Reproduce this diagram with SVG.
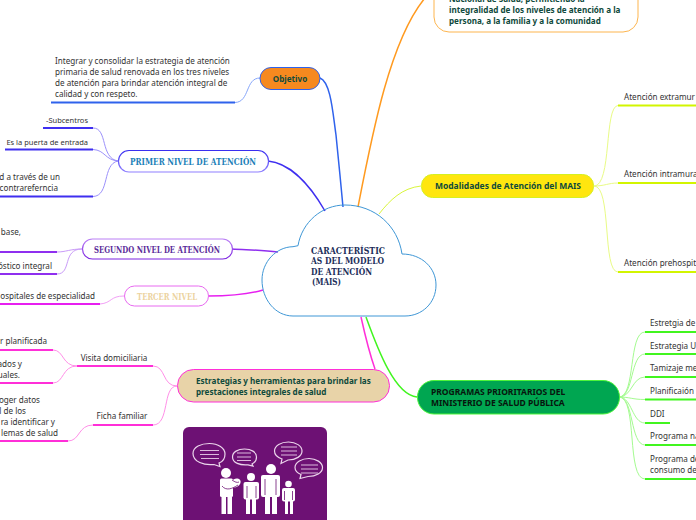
<svg xmlns="http://www.w3.org/2000/svg" width="696" height="520" viewBox="0 0 696 520">
<style>
text{font-family:"Noto Sans","DejaVu Sans",sans-serif;font-size:8.1px;fill:#333}
.s{font-size:7.5px}
.b{font-weight:700;fill:#0f4a3c;font-size:8.1px}
.b2{font-size:8.5px}
.h{font-family:"DejaVu Serif","Liberation Serif",serif;font-weight:700;font-size:9px}
.k{fill:#1c2e5a}
.m{text-anchor:middle}
.e{text-anchor:end}
path{fill:none}
.u{stroke-width:2}
.c{stroke-width:1}
.t{stroke-width:1.5}
.blue{stroke:#2f62ec}.blueL{stroke:#86a6fa}
.ind{stroke:#3f2ff0}.indL{stroke:#9b90fb}
.pur{stroke:#8f2fef}.purL{stroke:#c99bf8}
.mag{stroke:#e71ff0}.magL{stroke:#f2a0f6}
.pink{stroke:#ff2fd8}.pinkL{stroke:#ff8fe8}
.yel{stroke:#d2f500}.yelL{stroke:#e9fb86}
.grn{stroke:#41f51f}.grnL{stroke:#a4fb90}
.w{fill:#fff;stroke:none}
.bub{fill:none;stroke:#ecd6ec;stroke-width:1.200}
.ln{stroke:#dcbadc;stroke-width:1.100}
.sep{stroke:#6d1174;stroke-width:.8}
</style>
<defs>
<linearGradient id="gi" x1="0" y1="0" x2="0" y2="1"><stop offset="0" stop-color="#3a2ff0"/><stop offset="1" stop-color="#8f80ff"/></linearGradient>
<linearGradient id="gp" x1="0" y1="0" x2="0" y2="1"><stop offset="0" stop-color="#bb80f5"/><stop offset="1" stop-color="#7a20e0"/></linearGradient>
</defs>
<rect width="696" height="520" fill="#fff"/>
<g id="connectors">
<path class="t blue" d="M320 78C331 82 333 115 336 135C338 155 341 185 343 207"/>
<path class="t ind" d="M268 161C290 163 310 185 325 211"/>
<path class="t" stroke="#ff9a1f" d="M358 207C372 135 390 40 425 -2"/>
<path class="c" stroke="#d9f53a" d="M421 186C402 188 390 200 379 214"/>
<path class="t pur" d="M232 249C250 250 262 250 278 252"/>
<path class="t mag" d="M208 296C235 296 250 294 263 290"/>
<path class="t pink" d="M375 369C369 352 365 335 361 317"/>
<path class="t grn" d="M417 397C395 395 378 350 366 317"/>
<path class="u blue" d="M51 102.500H235"/><path class="c blueL" d="M235 102.500C250 102 245 78 260 78"/>
<path class="u ind" d="M43 128H93M5 149.500H93M0 196.500H93"/>
<path class="c indL" d="M93 128C108 128 100 158 118 161M93 149.500C105 150 105 160 118 161M93 196.500C110 196 102 164 118 161"/>
<path class="u pur" d="M0 252H57M0 274H57"/>
<path class="c purL" d="M57 252C66 252 70 249 82 249M57 274C72 274 62 249 82 249"/>
<path class="u mag" d="M0 304H100"/><path class="c magL" d="M100 304C112 303 110 296 124 296"/>
<path class="u pink" d="M77 366H153M93 425H153M0 350H53M0 383H53M0 441H68"/>
<path class="c pinkL" d="M153 366C166 366 162 386 177 386M153 425C170 425 162 386 177 386M53 350C64 350 62 366 77 366M53 383C64 383 62 366 77 366M68 441C80 441 78 425 93 425"/>
<path class="u yel" d="M618 105.500H696M618 183H696M618 272H696"/>
<path class="c yelL" d="M594 186C612 186 604 106 618 105.500M594 186C605 186 608 183 618 183M594 186C612 186 602 272 618 272"/>
<path class="u grn" d="M645 332H696M645 354H696M645 377H696M645 399.500H696M645 423H670M645 445H696M645 479H696"/>
<path class="c grnL" d="M619 397C636 397 628 332 645 332M619 397C634 397 630 354 645 354M619 397C632 397 632 377 645 377M619 397C630 397 632 399.500 645 399.500M619 397C632 397 632 423 645 423M619 397C634 397 630 445 645 445M619 397C638 397 626 479 645 479"/>
</g>
<g id="node-center">
<path d="M298 245.700C302 222 322 205 345 205C375 205 398 226 402 254C422 254 436 268 436 285C436 303 422 316 405 316H293C275 316 262 299 262 280C262 262 276 247 293 246.700Z" fill="#fff" stroke="#3f97d6" stroke-width="1"/>
<text class="h k" x="311" y="253.500" textLength="74" lengthAdjust="spacingAndGlyphs">CARACTERÍSTIC</text>
<text class="h k" x="311" y="264" textLength="73" lengthAdjust="spacingAndGlyphs">AS DEL MODELO</text>
<text class="h k" x="311" y="274.500" textLength="61" lengthAdjust="spacingAndGlyphs">DE ATENCIÓN</text>
<text class="h k" x="312" y="285" textLength="29" lengthAdjust="spacingAndGlyphs">(MAIS)</text>
</g>
<g id="node-objetivo">
<rect x="260" y="67.500" width="60" height="22" rx="11" fill="#f6891f" stroke="#2f62ec" stroke-width="1"/>
<text class="b m" x="290" y="82">Objetivo</text>
</g>
<g id="leaf-objetivo"><text><tspan x="55" y="64">Integrar y consolidar la estrategia de atención</tspan><tspan x="55" y="75">primaria de salud renovada en los tres niveles</tspan><tspan x="55" y="86">de atención para brindar atención integral de</tspan><tspan x="55" y="97">calidad y con respeto.</tspan></text></g>
<g id="node-primer">
<rect x="118.500" y="150.500" width="150" height="21.500" rx="10.500" fill="#fff" stroke="url(#gi)" stroke-width="1.200"/>
<text class="h m" x="193" y="165" style="fill:#1b80b8" textLength="126" lengthAdjust="spacingAndGlyphs">PRIMER NIVEL DE ATENCIÓN</text>
</g>
<g id="leaf-primer"><text class="e s" x="88" y="123">-Subcentros</text><text class="e s" x="88" y="145">Es la puerta de entrada</text><text class="e" x="60" y="180">d a través de un</text><text class="e" x="58" y="191">contrareferncia</text></g>
<g id="node-segundo">
<rect x="82.500" y="239" width="150" height="20" rx="10" fill="#fff" stroke="url(#gp)" stroke-width="1.200"/>
<text class="h m" x="157" y="252.500" style="fill:#5b2d9a" textLength="126" lengthAdjust="spacingAndGlyphs">SEGUNDO NIVEL DE ATENCIÓN</text>
</g>
<g id="leaf-segundo"><text class="e" x="21" y="235">base,</text><text class="e" x="52" y="269">óstico integral</text></g>
<g id="node-tercer">
<rect x="124.500" y="286" width="84" height="20" rx="10" fill="#fff" stroke="#e86af0" stroke-width="1"/>
<text class="h m" x="167" y="299.500" style="fill:#ecd3a0" textLength="60" lengthAdjust="spacingAndGlyphs">TERCER NIVEL</text>
</g>
<g id="leaf-tercer"><text class="e" x="95" y="299">ospitales de especialidad</text></g>
<g id="node-estrategias">
<rect x="177.500" y="369.500" width="212" height="32.500" rx="16" fill="#e8d3a8" stroke="#ff2fd8" stroke-width="1"/>
<text class="b"><tspan x="196" y="384">Estrategias y herramientas para brindar las</tspan><tspan x="196" y="395">prestaciones integrales de salud</tspan></text>
</g>
<g id="leaf-estrategias"><text class="m" x="114" y="361">Visita domiciliaria</text><text class="m" x="122" y="419">Ficha familiar</text><text class="e" x="47" y="344">r planificada</text><text class="e" x="22" y="367">ados y</text><text class="e" x="20" y="378">uales.</text><text class="e" x="40" y="403">oger datos</text><text class="e" x="26" y="414">l de los</text><text class="e" x="55" y="425">ra identificar y</text><text class="e" x="58" y="436">lemas de salud</text></g>
<g id="node-top">
<rect x="434" y="-30" width="204" height="62" rx="15" fill="#fff" stroke="#fdb54f" stroke-width="1"/>
<text class="b"><tspan x="449" y="2">Nacional de Salud, permitiendo la</tspan><tspan x="449" y="13">integralidad de los niveles de atención a la</tspan><tspan x="449" y="24">persona, a la familia y a la comunidad</tspan></text>
</g>
<g id="node-modalidades">
<rect x="421.500" y="174.500" width="172" height="23" rx="11" fill="#ffe60f" stroke="#d6f020" stroke-width="1"/>
<text class="b b2 m" x="508" y="189">Modalidades de Atención del MAIS</text>
</g>
<g id="leaf-modalidades"><text x="624" y="100">Atención extramur</text><text x="624" y="177">Atención intramura</text><text x="624" y="266">Atención prehospit</text></g>
<g id="node-programas">
<rect x="417.500" y="380.500" width="202" height="33.500" rx="16.500" fill="#00a651" stroke="#4df53a" stroke-width="1"/>
<text class="b b2" style="fill:#07160e"><tspan x="431" y="395">PROGRAMAS PRIORITARIOS DEL</tspan><tspan x="431" y="406">MINISTERIO DE SALUD PÚBLICA</tspan></text>
</g>
<g id="leaf-programas"><text x="650" y="326">Estretgia de</text><text x="650" y="349">Estrategia U</text><text x="650" y="371">Tamizaje me</text><text x="650" y="394">Planificaión</text><text x="650" y="417">DDI</text><text x="650" y="439">Programa na</text><text x="650" y="462">Programa de</text><text x="650" y="473">consumo de</text></g>
<g id="picture">
<rect x="183" y="427" width="144" height="110" rx="6" fill="#6d1174"/>
<path class="bub" d="M193 453.500C193 447 201 443.500 209.500 443.500C218 443.500 225 448 225 454C225 459.500 222 462 219 463L220 466.500L214 464.500C204 465.500 193 462 193 453.500Z"/>
<path class="bub" d="M232.500 457C232.500 452 238 449 244.500 449C251 449 256.500 452 256.500 457C256.500 461 254 463 252 464L253 466L248 464.800C240 465.500 232.500 463 232.500 457Z"/>
<path class="bub" d="M274.500 451C274.500 445.500 281 442 288.500 442C296 442 302 446 302 451C302 456 296 460 288 460L281 463.500L282 459C277.500 457.500 274.500 455 274.500 451Z"/>
<path class="bub" d="M295 467.500C295 462 302 458.500 309 458.500C316 458.500 322.500 462.500 322.500 467.500C322.500 473 316 476.500 308 476.500L300 478.500L301 474.500C297.500 473 295 470.500 295 467.500Z"/>
<path class="ln" d="M200 450.500H219M200 454.500H219M201 458.500H219M237 453H251M237 457H251M237 460.500H251M281 447H297M281 451H297M281 455H297M301 465H318M301 469H318M301 473H318"/>
<circle class="w" cx="226" cy="473" r="5"/>
<rect class="w" x="220" y="478.500" width="13" height="18.500" rx="1.500"/>
<ellipse class="w" cx="235.500" cy="483" rx="5.500" ry="4" transform="rotate(-30 235.500 483)"/>
<path class="sep" d="M222 486C226 491 232 489 238 485M232 480C235 482 237 483 239 482"/>
<rect class="w" x="221.500" y="497" width="4.500" height="17"/><rect class="w" x="227.500" y="497" width="4.500" height="17"/>
<circle class="w" cx="251" cy="477" r="4"/>
<rect class="w" x="243.500" y="482" width="15.500" height="17.500" rx="2"/>
<path class="sep" d="M247 486V498M256 486V498"/>
<rect class="w" x="246" y="499" width="4" height="15"/><rect class="w" x="252" y="499" width="4" height="15"/>
<circle class="w" cx="271" cy="469" r="5"/>
<rect class="w" x="261" y="475" width="19" height="22" rx="2"/>
<path class="sep" d="M265 479V495M276 479V495"/>
<rect class="w" x="265" y="496" width="5" height="18"/><rect class="w" x="272" y="496" width="5" height="18"/>
<circle class="w" cx="288.500" cy="484" r="3.300"/>
<rect class="w" x="282" y="488" width="13" height="13.500" rx="2"/>
<path class="sep" d="M284.500 491V500M292.500 491V500"/>
<rect class="w" x="285" y="501" width="3" height="13"/><rect class="w" x="290" y="501" width="3" height="13"/>
</g>
</svg>
